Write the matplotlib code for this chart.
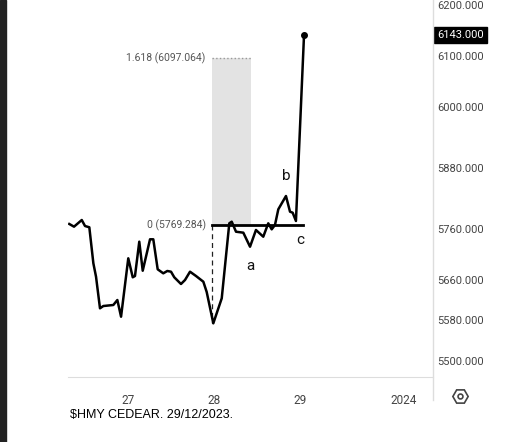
import matplotlib.pyplot as plt
from matplotlib.patches import Rectangle

# price path, x in trading days (0 = 27 Dec), y in price
t = [-0.683, -0.628, -0.538, -0.500, -0.450, -0.403, -0.372, -0.326, -0.287, -0.171,
     -0.124, -0.081, 0.003, 0.055, 0.081, 0.131, 0.171, 0.256, 0.294, 0.345,
     0.410, 0.457, 0.500, 0.538, 0.616, 0.663, 0.721, 0.791, 0.876, 0.915,
     0.992, 1.090, 1.178, 1.206, 1.256, 1.341, 1.419, 1.488, 1.573, 1.631,
     1.671, 1.709, 1.748, 1.837, 1.884, 1.915, 1.953, 2.047]
price = [5771.4, 5766.1, 5779.2, 5767.4, 5764.9, 5694.1, 5667.7, 5605.6, 5610.1, 5612.1,
         5621.9, 5589.1, 5703.9, 5666.6, 5669.1, 5736.6, 5679.5, 5741.3, 5741.3, 5682.3,
         5674.4, 5679.0, 5677.6, 5666.6, 5653.4, 5661.3, 5677.6, 5669.1, 5657.9, 5637.7,
         5576.1, 5625.3, 5772.7, 5775.9, 5756.2, 5754.3, 5726.7, 5759.6, 5746.4, 5772.7,
         5760.9, 5769.4, 5800.3, 5826.4, 5795.6, 5793.6, 5777.3, 6143.0]

fib_levels = [0, 1.618]
fib_prices = [5769.284, 6097.064]
fib_t = [0.973, 1.426]
line_end_t = 2.035
low_price = 5576.1

yticks = [6200, 6100, 6000, 5880, 5760, 5660, 5580, 5500]
xticks = [0, 1, 2, 3.21]
xlabels = ['27', '28', '29', '2024']
last_price = 6143.0

waves = ['a', 'b', 'c']
wave_t = [1.419, 1.837, 2.0]
wave_p = [5688.8, 5865.7, 5740.0]

narrow = ['Roboto', 'DejaVu Sans']

fig = plt.figure(figsize=(5.08, 4.42), dpi=100)
fig.patch.set_facecolor('white')
fig.add_artist(Rectangle((0, 0), 6 / 508, 1, transform=fig.transFigure, color='#222222'))

ax = fig.add_axes([68 / 508, 65 / 442, 365 / 508, 1 - 65 / 442])
ax.set_xlim(-0.698, 3.547)
ax.set_ylim(6200 - 371 * 1.9662, 6200 + 6 * 1.9662)

# fib box
ax.add_patch(Rectangle((fib_t[0], fib_prices[0]), fib_t[1] - fib_t[0], fib_prices[1] - fib_prices[0],
                       color='#e3e3e3', lw=0, zorder=1))
ax.plot(fib_t, [fib_prices[1]] * 2, color='#999999', lw=1, ls=':', zorder=2)
ax.plot([fib_t[0], fib_t[0]], [fib_prices[0], low_price], color='#222222', lw=0.9, ls=(0, (4, 3)), zorder=2)
ax.plot([fib_t[0], line_end_t], [fib_prices[0]] * 2, color='black', lw=2, zorder=3)
for lev, p in zip(fib_levels, fib_prices):
    ax.text(fib_t[0] - 0.07, p, f'{lev:g} ({p:.3f})', ha='right', va='center',
            fontsize=7.5, color='#555555', family=narrow)

ax.plot(t, price, color='black', lw=1.8, zorder=4)
ax.plot(t[-1], price[-1], 'o', color='black', ms=4, zorder=5)

for w, wt, wp in zip(waves, wave_t, wave_p):
    ax.text(wt, wp, w, ha='center', va='center', fontsize=11, color='#111111', family=narrow)

for s in ['top', 'left', 'right']:
    ax.spines[s].set_visible(False)
ax.spines['bottom'].set_color('#dddddd')
ax.set_yticks([])
ax.set_xticks(xticks)
ax.set_xticklabels(xlabels, fontsize=8.5, color='#444444', family=narrow)
ax.tick_params(axis='x', length=0, pad=12)

# price scale on the right
fig.add_artist(plt.Line2D([433 / 508] * 2, [1, 1 - 400 / 442], transform=fig.transFigure,
                          color='#dddddd', lw=1))
for v in yticks:
    ax.annotate(f'{v:.3f}', xy=(1, v), xycoords=('axes fraction', 'data'), xytext=(3, 0),
                textcoords='offset points', ha='left', va='center', fontsize=8,
                color='#444444', family=narrow, annotation_clip=False)
ax.annotate(f'{last_price:.3f}', xy=(1, last_price), xycoords=('axes fraction', 'data'),
            xytext=(3, 0), textcoords='offset points', ha='left', va='center', fontsize=8,
            color='white', family=narrow, annotation_clip=False,
            bbox=dict(boxstyle='square,pad=0.3', fc='black', ec='black'))

# settings icon
fig.add_artist(plt.Line2D([460 / 508], [1 - 396 / 442], transform=fig.transFigure, marker='H',
                          ms=11, mfc='none', mec='#444444', mew=1.2))
fig.add_artist(plt.Line2D([460 / 508], [1 - 396 / 442], transform=fig.transFigure, marker='o',
                          ms=3.5, mfc='none', mec='#444444', mew=1.2))

fig.text(70 / 508, 1 - 415 / 442, r'\$HMY CEDEAR. 29/12/2023.', fontsize=9, color='black',
         va='center', family=['Liberation Sans', 'DejaVu Sans'])

fig.savefig('out.png', dpi=100)
